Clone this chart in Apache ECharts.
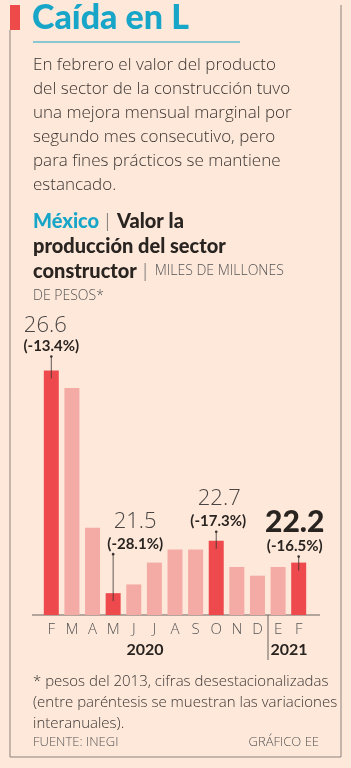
<!DOCTYPE html>
<html>
<head>
<meta charset="utf-8">
<script src="https://cdn.jsdelivr.net/npm/echarts@6/dist/echarts.min.js"></script>
<style>
  html, body { margin: 0; padding: 0; background: #fde8da; }
  #chart { width: 351px; height: 768px; }
</style>
</head>
<body>
<div id="chart"></div>
<script>
// datos: valor de la produccion del sector constructor (miles de millones de pesos)
var months = ['F', 'M', 'A', 'M', 'J', 'J', 'A', 'S', 'O', 'N', 'D', 'E', 'F'];
var values = [26.6, 26.2, 23.0, 21.5, 21.7, 22.2, 22.5, 22.5, 22.7, 22.1, 21.9, 22.1, 22.2];
var highlighted = [0, 3, 8, 12];
var annotValue = ['26.6', '21.5', '22.7', '22.2'];
var annotPct = ['(-13.4%)', '(-28.1%)', '(-17.3%)', '(-16.5%)'];
var years = ['2020', '2021'];

var RED = '#ee4a4d', PINK = '#f4aba5', CYAN = '#17a5c8', DARK = '#2a2421', GRAY = '#4a4542';
var FONT = '"Open Sans", Lato, sans-serif';
var BOLD = 'Lato, "Open Sans", sans-serif';

// posicion de cada anotacion respecto a la punta de su barra
var annotLayout = [
    { line: 14, pct: -24, val: -45, dxVal: -6, dxPct: 0, big: false },
    { line: 39, pct: -49, val: -71, dxVal: 22, dxPct: 22, big: false },
    { line: 9, pct: -20, val: -42, dxVal: 3, dxPct: 2, big: false },
    { line: 6, pct: -16, val: -40, dxVal: -4, dxPct: -4, big: true }
];

var chart = echarts.init(document.getElementById('chart'));

var barData = values.map(function (v, i) {
    return { value: v, itemStyle: { color: highlighted.indexOf(i) >= 0 ? RED : PINK } };
});

var annotData = highlighted.map(function (idx, k) {
    return [idx, values[idx], k];
});

function renderAnnot(params, api) {
    var k = api.value(2);
    var lay = annotLayout[k];
    var p = api.coord([api.value(0), api.value(1)]);
    var x = p[0], y = p[1];
    return {
        type: 'group',
        children: [
            { type: 'line', shape: { x1: x, y1: y + 8, x2: x, y2: y - lay.line }, style: { stroke: '#3a3330', lineWidth: 0.8 } },
            { type: 'circle', shape: { cx: x, cy: y - lay.line, r: 1.3 }, style: { fill: '#3a3330' } },
            {
                type: 'text',
                style: {
                    x: x + lay.dxVal, y: y + lay.val, text: annotValue[k],
                    fill: lay.big ? DARK : GRAY,
                    font: lay.big ? '900 30px ' + BOLD : '300 22px ' + FONT,
                    align: 'center', verticalAlign: 'middle'
                }
            },
            {
                type: 'text',
                style: {
                    x: x + lay.dxPct, y: y + lay.pct, text: annotPct[k],
                    fill: DARK, font: 'bold 15px ' + BOLD,
                    align: 'center', verticalAlign: 'middle'
                }
            }
        ]
    };
}

var bodyLines = [
    'En febrero el valor del producto',
    'del sector de la construcción tuvo',
    'una mejora mensual marginal por',
    'segundo mes consecutivo, pero',
    'para fines prácticos se mantiene',
    'estancado.'
];

var option = {
    backgroundColor: '#fde8da',
    animation: false,
    textStyle: { fontFamily: FONT },
    grid: { left: 41, right: 42, top: 353, bottom: 153 },
    xAxis: {
        type: 'category',
        data: months,
        axisLine: { show: false },
        axisTick: { show: false },
        axisLabel: { color: '#555', fontSize: 15, fontWeight: 300, margin: 7 }
    },
    yAxis: {
        type: 'value', min: 21, max: 27,
        show: false, splitLine: { show: false }
    },
    series: [
        { type: 'bar', data: barData, barWidth: 15 },
        { type: 'custom', renderItem: renderAnnot, data: annotData, z: 5 }
    ],
    graphic: [
        // marco
        { type: 'rect', shape: { x: 10, y: 5, width: 10, height: 25 }, style: { fill: '#ef4a4a' } },
        { type: 'polyline', shape: { points: [[10, 30], [10, 757], [341, 757], [341, 5]] }, style: { stroke: '#8d817b', lineWidth: 1, fill: null } },
        // titulo
        { type: 'text', left: 32, top: 1, style: { text: 'Caída en L', fill: CYAN, font: '900 34px ' + BOLD } },
        { type: 'line', shape: { x1: 33, y1: 42, x2: 240, y2: 42 }, style: { stroke: CYAN, lineWidth: 1 } },
        { type: 'text', left: 33, top: 53, style: { text: bodyLines.join('\n'), fill: '#3a3431', font: '300 17px ' + FONT, lineHeight: 24 } },
        // titulo del grafico
        {
            type: 'text', left: 33, top: 209,
            style: {
                text: '{c|México} {s|| }{b|Valor la}\n{b|producción del sector}\n{b|constructor} {s|| }{l|MILES DE MILLONES}\n{l|DE PESOS*}',
                lineHeight: 25,
                rich: {
                    c: { fill: CYAN, font: '900 20px ' + BOLD, lineHeight: 25 },
                    b: { fill: DARK, font: '900 20px ' + BOLD, lineHeight: 25 },
                    s: { fill: '#666', font: '300 18px ' + FONT, lineHeight: 25 },
                    l: { fill: '#555', font: '300 14px ' + FONT, lineHeight: 25 }
                }
            }
        },
        // eje
        { type: 'line', shape: { x1: 32, y1: 615, x2: 320, y2: 615 }, style: { stroke: '#6a625e', lineWidth: 1 } },
        { type: 'line', shape: { x1: 268, y1: 615, x2: 268, y2: 660 }, style: { stroke: '#6a625e', lineWidth: 1 } },
        { type: 'text', x: 145, y: 650, style: { text: years[0], fill: DARK, font: 'bold 16px ' + BOLD, align: 'center', verticalAlign: 'middle' } },
        { type: 'text', x: 289, y: 650, style: { text: years[1], fill: DARK, font: 'bold 16px ' + BOLD, align: 'center', verticalAlign: 'middle' } },
        // notas
        {
            type: 'text', left: 33, top: 671,
            style: {
                text: '* pesos del 2013, cifras desestacionalizadas\n(entre paréntesis se muestran las variaciones\ninteranuales).',
                fill: '#3a3431', font: '300 15px ' + FONT, lineHeight: 21
            }
        },
        { type: 'text', x: 33, y: 742, style: { text: 'FUENTE: INEGI', fill: '#555', font: '300 13px ' + FONT, verticalAlign: 'middle' } },
        { type: 'text', x: 319, y: 742, style: { text: 'GRÁFICO EE', fill: '#555', font: '300 13px ' + FONT, align: 'right', verticalAlign: 'middle' } }
    ]
};

chart.setOption(option);
</script>
</body>
</html>
